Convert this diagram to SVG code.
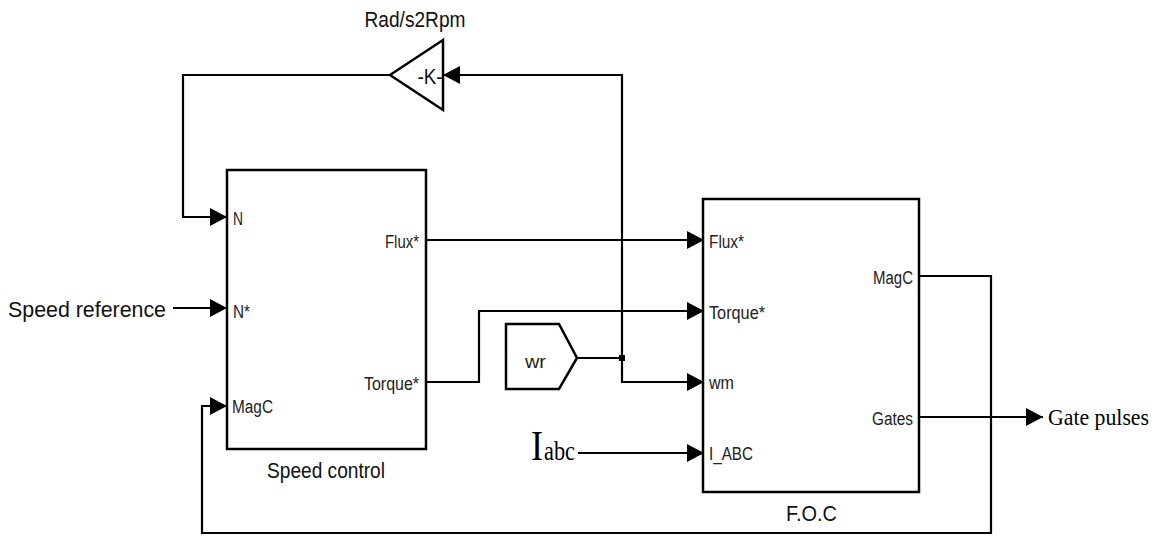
<svg xmlns="http://www.w3.org/2000/svg" width="1159" height="536" viewBox="0 0 1159 536">
<style>
.blk{fill:#fff;stroke:#000;stroke-width:2.5}
.ln{fill:none;stroke:#000;stroke-width:2.2}
.port{font-family:"Liberation Sans",Arial,sans-serif;font-size:18px;fill:#222}
.cap{font-family:"Liberation Sans",Arial,sans-serif;font-size:22px;fill:#111}
.tm{font-family:"Liberation Serif","Times New Roman",serif;fill:#000}
</style>
<defs>
<marker id="ah" markerUnits="userSpaceOnUse" markerWidth="18" markerHeight="20" refX="17" refY="10" orient="auto">
<path d="M0,1 L17,10 L0,19 z" fill="#000"/>
</marker>
</defs>
<rect width="1159" height="536" fill="#fff"/>
<g id="connectors">
<path class="ln" d="M390,75 H183 V217 H227" marker-end="url(#ah)"/>
<path class="ln" d="M173,308 H227" marker-end="url(#ah)"/>
<path class="ln" d="M426,240 H704" marker-end="url(#ah)"/>
<path class="ln" d="M426,382 H479 V311 H704" marker-end="url(#ah)"/>
<path class="ln" d="M577,358 H622"/>
<path class="ln" d="M622,358 V75 H443" marker-end="url(#ah)"/>
<path class="ln" d="M622,358 V382 H704" marker-end="url(#ah)"/>
<path class="ln" d="M578,453 H704" marker-end="url(#ah)"/>
<path class="ln" d="M919,276 H991 V533 H202 V406 H227" marker-end="url(#ah)"/>
<path class="ln" d="M919,417 H1043" marker-end="url(#ah)"/>
<rect x="619" y="355" width="6" height="6" fill="#000"/>
</g>
<g id="gain">
<polygon class="blk" points="390,75 443,40 443,110"/>
<text class="cap" x="430" y="84" text-anchor="middle" textLength="25" lengthAdjust="spacingAndGlyphs">-K-</text>
<text class="cap" x="415" y="27" text-anchor="middle" textLength="101" lengthAdjust="spacingAndGlyphs">Rad/s2Rpm</text>
</g>
<g id="speed-control">
<rect class="blk" x="227" y="170" width="199" height="279"/>
<text class="port" x="233" y="225" textLength="10" lengthAdjust="spacingAndGlyphs">N</text>
<text class="port" x="233" y="318" textLength="17" lengthAdjust="spacingAndGlyphs">N*</text>
<text class="port" x="232" y="413" textLength="41" lengthAdjust="spacingAndGlyphs">MagC</text>
<text class="port" x="385" y="248" textLength="34" lengthAdjust="spacingAndGlyphs">Flux*</text>
<text class="port" x="364" y="390" textLength="55" lengthAdjust="spacingAndGlyphs">Torque*</text>
<text class="cap" x="267" y="478" textLength="118" lengthAdjust="spacingAndGlyphs">Speed control</text>
</g>
<g id="speed-reference">
<text class="cap" x="8" y="317" font-size="25" textLength="158" lengthAdjust="spacingAndGlyphs">Speed reference</text>
</g>
<g id="wr">
<polygon class="blk" points="506,324 559,324 577,358 559,389 506,389"/>
<text class="port" x="525" y="368" font-size="19" textLength="21" lengthAdjust="spacingAndGlyphs">wr</text>
</g>
<g id="iabc">
<text class="tm" x="531" y="460" font-size="42" textLength="12" lengthAdjust="spacingAndGlyphs">I</text>
<text class="tm" x="544" y="460" font-size="27" textLength="31" lengthAdjust="spacingAndGlyphs">abc</text>
</g>
<g id="foc">
<rect class="blk" x="703" y="199" width="216" height="293"/>
<text class="port" x="709" y="248" textLength="35" lengthAdjust="spacingAndGlyphs">Flux*</text>
<text class="port" x="709" y="319" textLength="56" lengthAdjust="spacingAndGlyphs">Torque*</text>
<text class="port" x="709" y="389" textLength="25" lengthAdjust="spacingAndGlyphs">wm</text>
<text class="port" x="709" y="460" textLength="44" lengthAdjust="spacingAndGlyphs">I_ABC</text>
<text class="port" x="873" y="284" textLength="40" lengthAdjust="spacingAndGlyphs">MagC</text>
<text class="port" x="872" y="425" textLength="41" lengthAdjust="spacingAndGlyphs">Gates</text>
<text class="cap" x="786" y="521" textLength="51" lengthAdjust="spacingAndGlyphs">F.O.C</text>
</g>
<g id="gate-pulses">
<text class="tm" x="1048" y="425" font-size="23" textLength="101" lengthAdjust="spacingAndGlyphs">Gate pulses</text>
</g>
</svg>
